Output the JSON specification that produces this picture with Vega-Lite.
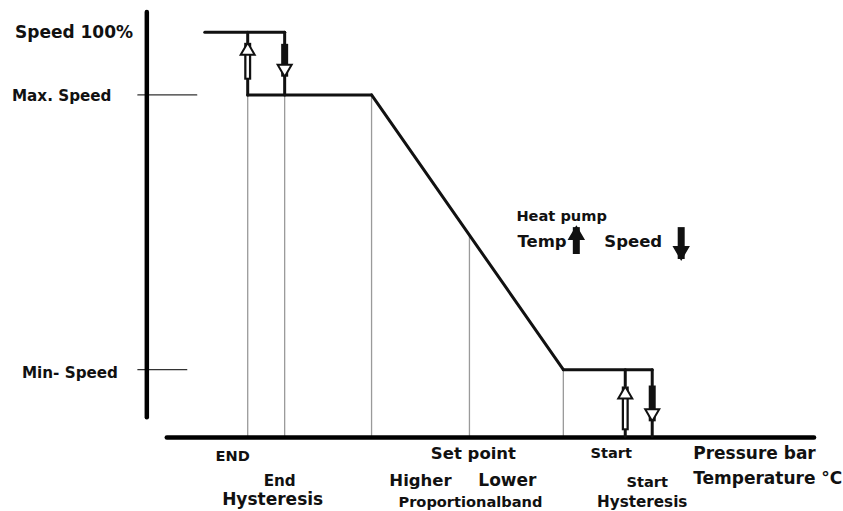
{
  "$schema": "https://vega.github.io/schema/vega-lite/v6.json",
  "width": 843,
  "height": 511,
  "autosize": {"type": "fit", "contains": "padding"},
  "padding": 0,
  "background": "white",
  "config": {"view": {"stroke": null}},
  "datasets": {
    "segments": [
      {"kind": "guide", "x": 248, "y": 84.5, "x2": 248, "y2": 0},
      {"kind": "guide", "x": 285, "y": 84.5, "x2": 285, "y2": 0},
      {"kind": "guide", "x": 372, "y": 84.5, "x2": 372, "y2": 0},
      {"kind": "guide", "x": 470, "y": 49.8, "x2": 470, "y2": 0},
      {"kind": "guide", "x": 564, "y": 16.5, "x2": 564, "y2": 0},
      {"kind": "tick", "x": 138, "y": 84.5, "x2": 197, "y2": 84.5},
      {"kind": "tick", "x": 138, "y": 16.5, "x2": 187, "y2": 16.5},
      {"kind": "axis", "x": 147, "y": 105, "x2": 147, "y2": 4.7},
      {"kind": "axis", "x": 167, "y": -0.3, "x2": 815, "y2": -0.3},
      {"kind": "curve", "x": 205, "y": 100, "x2": 285, "y2": 100},
      {"kind": "curve", "x": 248, "y": 100, "x2": 248, "y2": 84.5},
      {"kind": "curve", "x": 285, "y": 100, "x2": 285, "y2": 84.5},
      {"kind": "curve", "x": 248, "y": 84.5, "x2": 372, "y2": 84.5},
      {"kind": "curve", "x": 372, "y": 84.5, "x2": 564, "y2": 16.5},
      {"kind": "curve", "x": 564, "y": 16.5, "x2": 653, "y2": 16.5},
      {"kind": "curve", "x": 626, "y": 16.5, "x2": 626, "y2": 0},
      {"kind": "curve", "x": 653, "y": 16.5, "x2": 653, "y2": 0}
    ],
    "arrows": [
      {"x": 248, "tail": 88.27, "tip": 97.4, "dir": "up", "group": "curve"},
      {"x": 285, "tail": 97.15, "tip": 89.01, "dir": "down", "group": "curve"},
      {"x": 626, "tail": 1.48, "tip": 12.33, "dir": "up", "group": "curve"},
      {"x": 653, "tail": 12.57, "tip": 3.7, "dir": "down", "group": "curve"},
      {"x": 577, "tail": 45.12, "tip": 51.78, "dir": "up", "group": "legend"},
      {"x": 682, "tail": 51.78, "tip": 43.89, "dir": "down", "group": "legend"}
    ],
    "labels": [
      {"text": "Speed 100%", "x": 15, "y": 99.9, "anchor": "left", "level": "XL"},
      {"text": "Max. Speed", "x": 12, "y": 84.2, "anchor": "left", "level": "M"},
      {"text": "Min- Speed", "x": 22, "y": 15.78, "anchor": "left", "level": "M"},
      {"text": "Heat pump", "x": 517, "y": 54.25, "anchor": "left", "level": "S"},
      {"text": "Temp", "x": 518, "y": 48.08, "anchor": "left", "level": "L"},
      {"text": "Speed", "x": 605, "y": 48.08, "anchor": "left", "level": "L"},
      {"text": "Pressure bar", "x": 694, "y": -4.44, "anchor": "left", "level": "XL"},
      {"text": "Temperature °C", "x": 694, "y": -10.6, "anchor": "left", "level": "XL"},
      {"text": "END", "x": 233, "y": -5.18, "anchor": "center", "level": "S"},
      {"text": "End", "x": 280, "y": -11.1, "anchor": "center", "level": "M"},
      {"text": "Hysteresis", "x": 273, "y": -15.78, "anchor": "center", "level": "XL"},
      {"text": "Set point", "x": 474, "y": -4.44, "anchor": "center", "level": "L"},
      {"text": "Higher", "x": 421, "y": -11.1, "anchor": "center", "level": "L"},
      {"text": "Lower", "x": 508, "y": -11.1, "anchor": "center", "level": "XL"},
      {"text": "Proportionalband", "x": 471, "y": -16.52, "anchor": "center", "level": "S"},
      {"text": "Start", "x": 612, "y": -4.44, "anchor": "center", "level": "S"},
      {"text": "Start", "x": 648, "y": -11.59, "anchor": "center", "level": "S"},
      {"text": "Hysteresis", "x": 643, "y": -16.27, "anchor": "center", "level": "M"}
    ]
  },
  "resolve": {"scale": {"size": "independent", "color": "independent", "fill": "independent", "shape": "independent"}},
  "layer": [
    {
      "data": {"name": "segments"},
      "mark": {"type": "rule", "strokeCap": "round"},
      "encoding": {
        "x": {"field": "x", "type": "quantitative", "scale": {"domain": [0, 843], "nice": false, "zero": false}, "axis": null},
        "x2": {"field": "x2"},
        "y": {"field": "y", "type": "quantitative", "scale": {"domain": [-18, 108], "nice": false, "zero": false}, "axis": null},
        "y2": {"field": "y2"},
        "color": {"field": "kind", "type": "nominal", "scale": {"domain": ["axis", "curve", "guide", "tick"], "range": ["#000000", "#111111", "#9a9a9a", "#333333"]}, "legend": null},
        "size": {"field": "kind", "type": "nominal", "scale": {"type": "ordinal", "domain": ["axis", "curve", "guide", "tick"], "range": [4.5, 3, 1.3, 1.2]}, "legend": null}
      }
    },
    {
      "data": {"name": "arrows"},
      "mark": {"type": "rule", "strokeWidth": 7, "color": "#111111", "strokeCap": "butt"},
      "encoding": {
        "x": {"field": "x", "type": "quantitative", "scale": {"domain": [0, 843], "nice": false, "zero": false}, "axis": null},
        "y": {"field": "tail", "type": "quantitative", "scale": {"domain": [-18, 108], "nice": false, "zero": false}, "axis": null},
        "y2": {"field": "tip"}
      }
    },
    {
      "data": {"name": "arrows"},
      "transform": [{"filter": "datum.dir === 'up' && datum.group === 'curve'"}],
      "mark": {"type": "rule", "strokeWidth": 2.5, "color": "#ffffff", "strokeCap": "butt", "y2Offset": -2},
      "encoding": {
        "x": {"field": "x", "type": "quantitative", "scale": {"domain": [0, 843], "nice": false, "zero": false}, "axis": null},
        "y": {"field": "tip", "type": "quantitative", "scale": {"domain": [-18, 108], "nice": false, "zero": false}, "axis": null},
        "y2": {"field": "tail"}
      }
    },
    {
      "data": {"name": "arrows"},
      "mark": {"type": "point", "size": 100, "stroke": "#111111", "strokeWidth": 2, "opacity": 1, "fillOpacity": 1, "strokeJoin": "miter"},
      "encoding": {
        "x": {"field": "x", "type": "quantitative", "scale": {"domain": [0, 843], "nice": false, "zero": false}, "axis": null},
        "y": {"field": "tip", "type": "quantitative", "scale": {"domain": [-18, 108], "nice": false, "zero": false}, "axis": null},
        "shape": {"field": "dir", "type": "nominal", "scale": {"domain": ["up", "down"], "range": ["M0,0L1.4,2.4L-1.4,2.4Z", "M0,0L1.4,-2.4L-1.4,-2.4Z"]}, "legend": null},
        "fill": {"field": "group", "type": "nominal", "scale": {"domain": ["curve", "legend"], "range": ["#ffffff", "#111111"]}, "legend": null}
      }
    },
    {
      "data": {"name": "labels"},
      "transform": [{"filter": "datum.anchor === 'left'"}],
      "mark": {"type": "text", "font": "DejaVu Sans", "fontWeight": "bold", "align": "left", "baseline": "middle", "color": "#111111"},
      "encoding": {
        "x": {"field": "x", "type": "quantitative", "scale": {"domain": [0, 843], "nice": false, "zero": false}, "axis": null},
        "y": {"field": "y", "type": "quantitative", "scale": {"domain": [-18, 108], "nice": false, "zero": false}, "axis": null},
        "text": {"field": "text", "type": "nominal"},
        "size": {"field": "level", "type": "nominal", "scale": {"type": "ordinal", "domain": ["S", "M", "L", "XL"], "range": [14.6, 15.2, 16.5, 17]}, "legend": null}
      }
    },
    {
      "data": {"name": "labels"},
      "transform": [{"filter": "datum.anchor === 'center'"}],
      "mark": {"type": "text", "font": "DejaVu Sans", "fontWeight": "bold", "align": "center", "baseline": "middle", "color": "#111111"},
      "encoding": {
        "x": {"field": "x", "type": "quantitative", "scale": {"domain": [0, 843], "nice": false, "zero": false}, "axis": null},
        "y": {"field": "y", "type": "quantitative", "scale": {"domain": [-18, 108], "nice": false, "zero": false}, "axis": null},
        "text": {"field": "text", "type": "nominal"},
        "size": {"field": "level", "type": "nominal", "scale": {"type": "ordinal", "domain": ["S", "M", "L", "XL"], "range": [14.6, 15.2, 16.5, 17]}, "legend": null}
      }
    }
  ]
}
